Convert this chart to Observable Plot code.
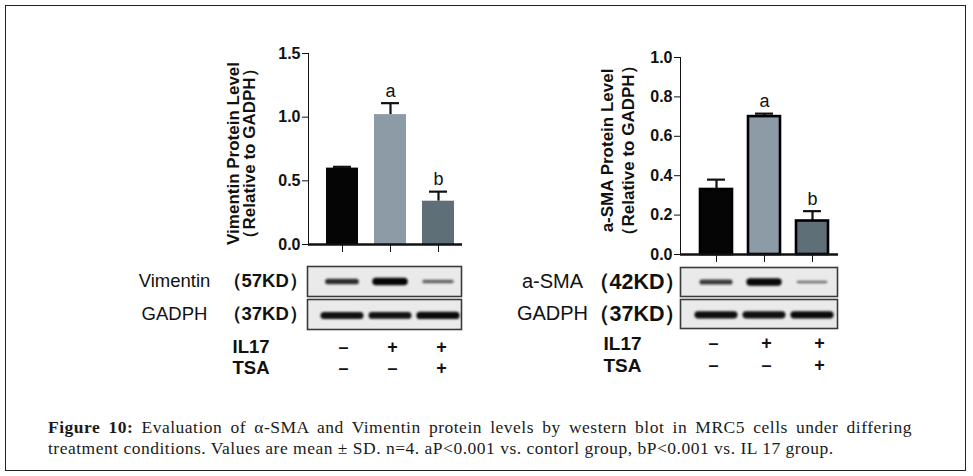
<!DOCTYPE html>
<html><head><meta charset="utf-8">
<script src="https://cdn.jsdelivr.net/npm/d3@7"></script>
<script src="https://cdn.jsdelivr.net/npm/@observablehq/plot@0.6"></script>
<style>
body{margin:0;background:#fff;}
#root{position:relative;width:973px;height:476px;overflow:hidden;background:#fff;font-family:"Liberation Sans",Arial,sans-serif;}
#border{position:absolute;left:5px;top:5px;width:961px;height:466px;border:1.5px solid #222;box-sizing:border-box;}
.p{position:absolute;}
.p svg{overflow:visible;}
.bars g[aria-label="y-axis"] path, .bars g[aria-label="y-axis"] line{stroke-width:2.4px;}
.bars g[aria-label="x-axis"] line{stroke-width:2.4px;}
.blot g[aria-label="tick"]{filter:blur(0.9px);}
#caption{position:absolute;left:48px;top:417px;width:864px;font-family:"Liberation Serif","Times New Roman",serif;font-size:17.5px;letter-spacing:0.5px;line-height:21px;color:#1a1a1a;}
#caption .l1{text-align:justify;text-align-last:justify;white-space:nowrap;}
</style></head>
<body><div id="root"><div id="border"></div>
<div id="caption"><div class="l1"><b>Figure 10:</b> Evaluation of α-SMA and Vimentin protein levels by western blot in MRC5 cells under differing</div><div>treatment conditions. Values are mean ± SD. n=4. aP&lt;0.001 vs. contorl group, bP&lt;0.001 vs. IL 17 group.</div></div>
</div>
<script>
// ---- data ----
const groups = ["Control", "IL17", "IL17+TSA"];
const vimentinMean = [0.60, 1.02, 0.34];
const vimentinSD = [0.01, 0.09, 0.075];
const smaMean = [0.33, 0.70, 0.17];
const smaSD = [0.05, 0.015, 0.05];
const sigLetters = ["", "a", "b"];
const barColors = ["#050505", "#8d9ba7", "#5e6f78"];
const vimentinTicks = [0, 0.5, 1.0, 1.5];
const smaTicks = [0, 0.2, 0.4, 0.6, 0.8, 1.0];
const il17Signs = ["–", "+", "+"];
const tsaSigns = ["–", "–", "+"];
const treatRows = ["IL17", "TSA"];
// relative band intensities read from the blots
const vimentinBand = [0.7, 1.0, 0.3];
const gadphBandL = [0.92, 0.9, 0.96];
const smaBand = [0.6, 0.97, 0.2];
const gadphBandR = [0.93, 0.92, 0.96];

const FONT = '"Liberation Sans", Arial, sans-serif';
const root = document.getElementById("root");
function place(node, left, top, cls) {
  const d = document.createElement("div");
  d.className = "p " + cls;
  d.style.left = left + "px"; d.style.top = top + "px";
  d.appendChild(node); root.appendChild(d);
}

function barChart(o) {
  const data = groups.map((g, i) => ({g, m: o.means[i], top: o.means[i] + o.sds[i], letter: sigLetters[i], color: barColors[i]}));
  return Plot.plot({
    width: o.width, height: o.height,
    marginLeft: o.ml, marginRight: o.mr, marginTop: o.mt, marginBottom: o.mb,
    style: {fontFamily: FONT, fontSize: "16px", fontWeight: "bold", color: "#111", background: "transparent"},
    x: {domain: groups, range: o.xRange, padding: 1/3, tickSize: 8, tickFormat: () => "", label: null},
    y: {domain: o.yDomain, ticks: o.ticks, tickFormat: ".1f", tickSize: 6, tickPadding: 2, label: null, line: true},
    marks: [
      Plot.ruleX(data, {x: "g", y1: "m", y2: "top", strokeWidth: 2.2}),
      Plot.tickY(data, {x: "g", y: "top", strokeWidth: 2.2, insetLeft: 7, insetRight: 7}),
      Plot.barY(data, {x: "g", y: "m", fill: "color", stroke: o.outline ? "#000" : "none", strokeWidth: 2.6}),
      Plot.text(data, {x: "g", y: "top", text: "letter", dy: -12, fontSize: 18, fontWeight: "normal"}),
      Plot.ruleY([0], {strokeWidth: 2.4}),
      Plot.text([o.title], {y: () => o.titleY, frameAnchor: "left", textAnchor: "middle", lineAnchor: "middle", dx: o.titleDx, rotate: -90, lineHeight: o.titleLH, fontSize: 17, fontWeight: "bold"})
    ]
  });
}

function blotChart(o) {
  const rows = ["target", "GADPH"];
  const bands = [];
  groups.forEach((g, i) => {
    bands.push({row: "target", g, v: o.targetBand[i]});
    bands.push({row: "GADPH", g, v: o.gapdhBand[i]});
  });
  const labels = [{row: "target", name: o.name, kd: o.kd}, {row: "GADPH", name: "GADPH", kd: "（37KD）"}];
  const shade = d3.interpolateRgb("#8a8a8a", "#050505");
  return Plot.plot({
    width: o.width, height: o.height,
    marginLeft: o.ml, marginRight: o.mr, marginTop: 2, marginBottom: 2,
    style: {fontFamily: FONT, fontSize: "16px", color: "#111", background: "transparent"},
    x: {domain: groups, range: o.xRange, padding: 1/3, axis: null},
    y: {domain: [0, 1], axis: null},
    fy: {domain: rows, paddingInner: 0.1, paddingOuter: 0, axis: null},
    marks: [
      Plot.frame({fill: "#eaeaea", stroke: "#3a3a3a", strokeWidth: 1.6}),
      Plot.tickY(bands.filter(d => d.row === "target"), {fy: "row", x: "g", y: () => 0.5, stroke: d => shade(d.v), strokeWidth: d => 1.5 + 6 * d.v, strokeLinecap: "round", insetLeft: 2, insetRight: 2}),
      Plot.tickY(bands.filter(d => d.row === "GADPH"), {fy: "row", x: "g", y: () => 0.47, stroke: d => shade(d.v), strokeWidth: d => 1.5 + 6 * d.v, strokeLinecap: "round", insetLeft: -2, insetRight: -2}),
      Plot.text(labels, {fy: "row", frameAnchor: "left", dx: o.nameDx, text: "name", textAnchor: "middle", fontWeight: d => d.row === "target" ? o.nameWeight : "normal", fontSize: o.fs}),
      Plot.text(labels, {fy: "row", frameAnchor: "left", dx: o.kdDx, text: "kd", textAnchor: "start", fontWeight: "bold", fontSize: o.kdFs})
    ]
  });
}

function signChart(o) {
  const signs = [];
  groups.forEach((g, i) => { signs.push({row: "IL17", g, s: il17Signs[i]}); signs.push({row: "TSA", g, s: tsaSigns[i]}); });
  return Plot.plot({
    width: o.width, height: o.height, marginLeft: o.ml, marginRight: 0, marginTop: 0, marginBottom: 0,
    style: {fontFamily: FONT, fontSize: "16px", color: "#111", background: "transparent"},
    x: {type: "point", domain: groups, range: o.xRange, padding: 0, axis: null},
    y: {type: "point", domain: treatRows, range: o.yRange, padding: 0, axis: null},
    marks: [
      Plot.text(signs, {x: "g", y: "row", text: "s", fontWeight: "bold", fontSize: 18}),
      Plot.text(treatRows, {y: d => d, frameAnchor: "left", text: d => d, textAnchor: "start", fontWeight: "bold", fontSize: o.fs})
    ]
  });
}

// ---- left panel (Vimentin) ----
place(barChart({means: vimentinMean, sds: vimentinSD, ticks: vimentinTicks, yDomain: [0, 1.5], outline: false,
  width: 268, height: 220, ml: 98, mr: 16, mt: 13, mb: 16, xRange: [100, 260],
  title: "Vimentin Protein Level\n（Relative to GADPH）", titleY: 0.715, titleDx: -67, titleLH: 0.95}), 210, 40, "bars");
place(blotChart({name: "Vimentin", kd: "（57KD）", nameWeight: "bold", fs: 18.5, kdFs: 18.5, targetBand: vimentinBand, gapdhBand: gadphBandL,
  width: 365, height: 68, ml: 207, mr: 4, xRange: [210, 370], nameDx: -133, kdDx: -85}), 100, 263, "blot");
place(signChart({width: 270, height: 45, ml: 32, fs: 18.5, xRange: [142, 241], yRange: [12, 33]}), 200, 335, "signs");

// ---- right panel (a-SMA) ----
place(barChart({means: smaMean, sds: smaSD, ticks: smaTicks, yDomain: [0, 1.0], outline: true,
  width: 280, height: 230, ml: 100, mr: 22, mt: 17, mb: 16, xRange: [102.3, 265.6],
  title: "a-SMA Protein Level\n（Relative to GADPH）", titleY: 0.528, titleDx: -64, titleLH: 1.25}), 580, 40, "bars");
place(blotChart({name: "a-SMA", kd: "（42KD）", nameWeight: "normal", fs: 20, kdFs: 21.5, targetBand: smaBand, gapdhBand: gadphBandR,
  width: 361, height: 65, ml: 200, mr: 4, xRange: [202.3, 365.6], nameDx: -128, kdDx: -93}), 480, 265, "blot");
place(signChart({width: 260, height: 45, ml: 23, fs: 19, xRange: [133, 239], yRange: [8, 30]}), 580, 335, "signs");
</script>
</body></html>
